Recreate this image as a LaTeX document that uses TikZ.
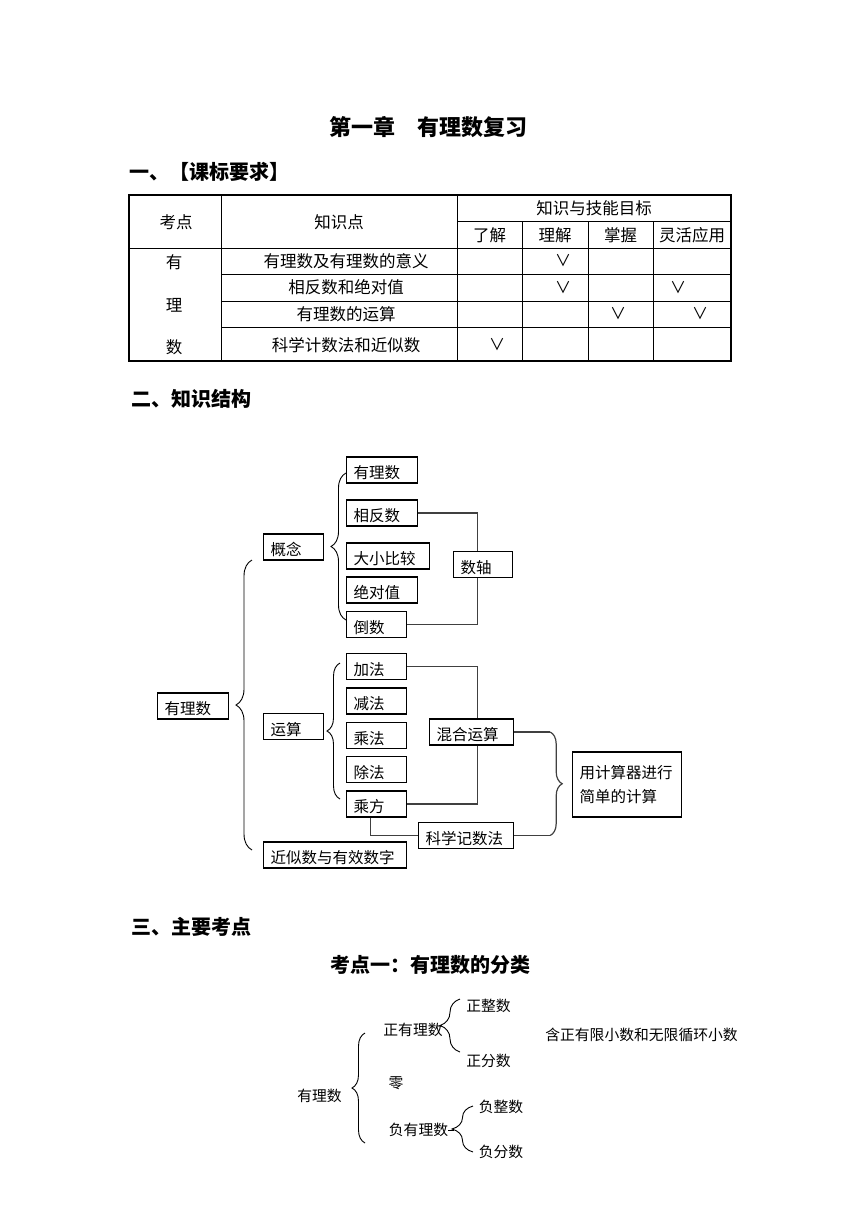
\documentclass[tikz,border=0pt]{standalone}
\usepackage{fontspec}
\setmainfont{Noto Sans CJK SC}
\usetikzlibrary{decorations.pathreplacing,calc}
\newcommand{\fsz}[1]{\fontsize{#1}{#1}\selectfont}
\begin{document}
\begin{tikzpicture}[x=1pt,y=-1pt,
  bxb/.style={draw, line width=1.2pt, inner xsep=7pt, inner ysep=0pt, anchor=west, align=left, font=\fsz{15.5}},
  bx/.style={bxb, minimum height=26pt, text height=17.5pt, text depth=0pt},
  ln/.style={draw=black!75, line width=1.2pt},
  br/.style={decorate, decoration={brace, amplitude=#1}, line width=0.9pt},
  tt/.style={inner sep=0pt, font=\fsz{16.5}},
  ck/.style={inner sep=0pt, font=\fsz{16}},
  hd/.style={inner sep=0pt, anchor=west, font=\bfseries\fsz{20}},
  bt/.style={inner sep=0pt, font=\fsz{14.8}},
  tl/.style={line width=1pt},
]
\useasboundingbox (0,0) rectangle (860,1216);
\fill[white] (0,0) rectangle (860,1216);

% headings
\node[inner sep=0pt, font=\bfseries\fsz{22}] (title) at (428.5,127) {第一章　有理数复习};
\node[hd] (h1) at (129,172) {一、【课标要求】};
\node[hd] (h2) at (131,399) {二、知识结构};
\node[hd] (h3) at (131,927) {三、主要考点};
\node[inner sep=0pt, font=\bfseries\fsz{20}] (h4) at (430,965) {考点一：有理数的分类};

% table
\draw[tl] (221,195) -- (221,361);
\draw[tl] (457,195) -- (457,361);
\draw[tl] (457,221) -- (731,221);
\draw[tl] (129,248) -- (731,248);
\draw[tl] (221,274) -- (731,274);
\draw[tl] (221,301) -- (731,301);
\draw[tl] (221,327) -- (731,327);
\draw[tl] (522,221) -- (522,361);
\draw[tl] (588,221) -- (588,361);
\draw[tl] (653,221) -- (653,361);
\draw[line width=2pt] (129,195) rectangle (731,361);

\node[tt] (t11) at (176,222) {考点};
\node[tt] (t12) at (339,222) {知识点};
\node[tt] (t13) at (594,208) {知识与技能目标};
\node[tt] (t21) at (489.5,235) {了解};
\node[tt] (t22) at (555,235) {理解};
\node[tt] (t23) at (620.5,235) {掌握};
\node[tt] (t24) at (692,235) {灵活应用};
\node[tt] (c1) at (174,262) {有};
\node[tt] (c2) at (174,305) {理};
\node[tt] (c3) at (174,347) {数};
\node[tt] (r1) at (346,261) {有理数及有理数的意义};
\node[tt] (r2) at (346,287.5) {相反数和绝对值};
\node[tt] (r3) at (346,314) {有理数的运算};
\node[tt] (r4) at (346,345) {科学计数法和近似数};
\node[ck] (k1) at (563,261) {∨};
\node[ck] (k2) at (563,287.5) {∨};
\node[ck] (k3) at (678,287.5) {∨};
\node[ck] (k4) at (618,314) {∨};
\node[ck] (k5) at (700,314) {∨};
\node[ck] (k6) at (497,345) {∨};

% knowledge structure
\node[bx, text width=57pt] (a1) at (346,470) {有理数};
\node[bx, text width=57pt] (a2) at (346,513) {相反数};
\node[bx, text width=46pt] (gn) at (263,547) {概念};
\node[bx, text width=69pt] (dx) at (346,556) {大小比较};
\node[bx, text width=57pt] (jd) at (346,590) {绝对值};
\node[bx, text width=46pt] (ds) at (346,624.5) {倒数};
\node[bx, text width=45pt] (zx) at (453,564.5) {数轴};
\node[bx, text width=57pt] (root) at (157,706) {有理数};
\node[bx, text width=46pt] (ys) at (263,726.5) {运算};
\node[bx, text width=46pt] (jf) at (346,666.5) {加法};
\node[bx, text width=46pt] (jnf) at (346,701) {减法};
\node[bx, text width=46pt] (cf) at (346,735.5) {乘法};
\node[bx, text width=46pt] (cuf) at (346,769.5) {除法};
\node[bx, text width=46pt] (cfang) at (346,804) {乘方};
\node[bx, text width=70pt] (hh) at (429,732) {混合运算};
\node[bx, text width=81pt] (kx) at (418,835.5) {科学记数法};
\node[bx, text width=129pt] (js) at (263,855) {近似数与有效数字};
\node[bxb, text width=95pt, minimum height=65pt, font=\fontsize{15.5}{24}\selectfont] (jsq) at (572,784.5) {用计算器进行\\简单的计算};

\draw[ln] (a2.east) -| ([xshift=-5.5pt]zx.north);
\draw[ln] (ds.east) -| ([xshift=-5.5pt]zx.south);
\draw[ln] (jf.east) -| ([xshift=6pt]hh.north);
\draw[ln] (cfang.east) -| ([xshift=6pt]hh.south);
\draw[ln] ([xshift=-6pt]cfang.south) |- (kx.west);
\coordinate (rb1) at ($(hh.east)+(36,0)$);
\coordinate (rb2) at ($(kx.east)+(36,0)$);
\draw[ln] (hh.east) -- (rb1);
\draw[ln] (kx.east) -- (rb2);
\draw[br=12pt, draw=black!75, line width=1.2pt] (rb1) -- (rb2);

\draw[br=16pt] (252,850) -- (252,560);
\draw[br=15pt] (346,620) -- (346,473);
\draw[br=13pt] (340,799) -- (340,663);

% classification
\node[bt] (b0) at (319.5,1096) {有理数};
\node[bt] (zy) at (413,1030) {正有理数};
\node[bt] (zz) at (488.5,1006) {正整数};
\node[bt] (zf) at (488.5,1061) {正分数};
\node[bt] (note) at (641.5,1035) {含正有限小数和无限循环小数};
\node[bt] (ling) at (396,1083) {零};
\node[bt] (fy) at (418.5,1130) {负有理数};
\node[bt] (fz) at (501,1107) {负整数};
\node[bt] (ff) at (501,1152) {负分数};
\draw[br=13pt] (365,1143) -- (365,1033);
\draw[br=20pt] (460,1052) -- (460,999);
\draw[br=21pt] (473,1152) -- (473,1106);
\draw[line width=0.9pt] (fy.east) -- ++(6,0);
\end{tikzpicture}
\end{document}
